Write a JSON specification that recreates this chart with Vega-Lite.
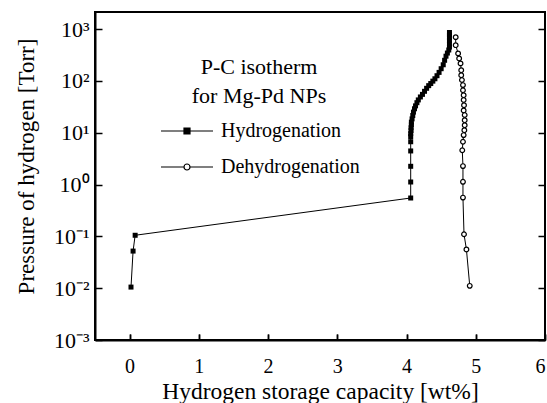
{
  "$schema": "https://vega.github.io/schema/vega-lite/v6.json",
  "width": 450,
  "height": 328,
  "autosize": {"type": "none"},
  "padding": {"left": 95, "top": 12, "right": 2, "bottom": 63},
  "background": "white",
  "config": {
    "view": {"stroke": "black", "strokeWidth": 2},
    "font": "Liberation Serif"
  },
  "data": {"values": [
    {"series": "Hydrogenation", "i": 1, "x": 0.02, "p": 0.0105},
    {"series": "Hydrogenation", "i": 2, "x": 0.05, "p": 0.052},
    {"series": "Hydrogenation", "i": 3, "x": 0.08, "p": 0.105},
    {"series": "Hydrogenation", "i": 4, "x": 4.06, "p": 0.55},
    {"series": "Hydrogenation", "i": 5, "x": 4.06, "p": 1.12},
    {"series": "Hydrogenation", "i": 6, "x": 4.06, "p": 2.25},
    {"series": "Hydrogenation", "i": 7, "x": 4.06, "p": 4.45},
    {"series": "Hydrogenation", "i": 8, "x": 4.06, "p": 6.7},
    {"series": "Hydrogenation", "i": 9, "x": 4.06, "p": 8.4},
    {"series": "Hydrogenation", "i": 10, "x": 4.06, "p": 9.6},
    {"series": "Hydrogenation", "i": 11, "x": 4.065, "p": 11.0},
    {"series": "Hydrogenation", "i": 12, "x": 4.065, "p": 12.5},
    {"series": "Hydrogenation", "i": 13, "x": 4.07, "p": 14.2},
    {"series": "Hydrogenation", "i": 14, "x": 4.07, "p": 16.0},
    {"series": "Hydrogenation", "i": 15, "x": 4.08, "p": 18.5},
    {"series": "Hydrogenation", "i": 16, "x": 4.09, "p": 21.5},
    {"series": "Hydrogenation", "i": 17, "x": 4.10, "p": 25},
    {"series": "Hydrogenation", "i": 18, "x": 4.115, "p": 29},
    {"series": "Hydrogenation", "i": 19, "x": 4.13, "p": 33},
    {"series": "Hydrogenation", "i": 20, "x": 4.15, "p": 38},
    {"series": "Hydrogenation", "i": 21, "x": 4.17, "p": 43},
    {"series": "Hydrogenation", "i": 22, "x": 4.20, "p": 49},
    {"series": "Hydrogenation", "i": 23, "x": 4.23, "p": 55},
    {"series": "Hydrogenation", "i": 24, "x": 4.26, "p": 63},
    {"series": "Hydrogenation", "i": 25, "x": 4.29, "p": 72},
    {"series": "Hydrogenation", "i": 26, "x": 4.32, "p": 81},
    {"series": "Hydrogenation", "i": 27, "x": 4.35, "p": 89},
    {"series": "Hydrogenation", "i": 28, "x": 4.38, "p": 99},
    {"series": "Hydrogenation", "i": 29, "x": 4.41, "p": 110},
    {"series": "Hydrogenation", "i": 30, "x": 4.44, "p": 126},
    {"series": "Hydrogenation", "i": 31, "x": 4.47, "p": 146},
    {"series": "Hydrogenation", "i": 32, "x": 4.50, "p": 172},
    {"series": "Hydrogenation", "i": 33, "x": 4.53, "p": 205},
    {"series": "Hydrogenation", "i": 34, "x": 4.55, "p": 250},
    {"series": "Hydrogenation", "i": 35, "x": 4.57, "p": 300},
    {"series": "Hydrogenation", "i": 36, "x": 4.59, "p": 345},
    {"series": "Hydrogenation", "i": 37, "x": 4.61, "p": 395},
    {"series": "Hydrogenation", "i": 38, "x": 4.62, "p": 450},
    {"series": "Hydrogenation", "i": 39, "x": 4.62, "p": 520},
    {"series": "Hydrogenation", "i": 40, "x": 4.62, "p": 600},
    {"series": "Hydrogenation", "i": 41, "x": 4.62, "p": 690},
    {"series": "Hydrogenation", "i": 42, "x": 4.62, "p": 780},
    {"series": "Hydrogenation", "i": 43, "x": 4.62, "p": 860},
    {"series": "Dehydrogenation", "i": 1, "x": 4.71, "p": 700},
    {"series": "Dehydrogenation", "i": 2, "x": 4.71, "p": 490},
    {"series": "Dehydrogenation", "i": 3, "x": 4.745, "p": 340},
    {"series": "Dehydrogenation", "i": 4, "x": 4.76, "p": 272},
    {"series": "Dehydrogenation", "i": 5, "x": 4.78, "p": 218},
    {"series": "Dehydrogenation", "i": 6, "x": 4.79, "p": 161},
    {"series": "Dehydrogenation", "i": 7, "x": 4.79, "p": 129},
    {"series": "Dehydrogenation", "i": 8, "x": 4.80, "p": 104},
    {"series": "Dehydrogenation", "i": 9, "x": 4.815, "p": 83},
    {"series": "Dehydrogenation", "i": 10, "x": 4.815, "p": 66},
    {"series": "Dehydrogenation", "i": 11, "x": 4.825, "p": 53},
    {"series": "Dehydrogenation", "i": 12, "x": 4.825, "p": 43},
    {"series": "Dehydrogenation", "i": 13, "x": 4.83, "p": 34},
    {"series": "Dehydrogenation", "i": 14, "x": 4.825, "p": 27},
    {"series": "Dehydrogenation", "i": 15, "x": 4.84, "p": 22},
    {"series": "Dehydrogenation", "i": 16, "x": 4.84, "p": 17.5},
    {"series": "Dehydrogenation", "i": 17, "x": 4.84, "p": 14},
    {"series": "Dehydrogenation", "i": 18, "x": 4.835, "p": 11.2},
    {"series": "Dehydrogenation", "i": 19, "x": 4.825, "p": 9.0},
    {"series": "Dehydrogenation", "i": 20, "x": 4.815, "p": 6.7},
    {"series": "Dehydrogenation", "i": 21, "x": 4.805, "p": 4.6},
    {"series": "Dehydrogenation", "i": 22, "x": 4.815, "p": 2.27},
    {"series": "Dehydrogenation", "i": 23, "x": 4.815, "p": 1.13},
    {"series": "Dehydrogenation", "i": 24, "x": 4.815, "p": 0.56},
    {"series": "Dehydrogenation", "i": 25, "x": 4.83, "p": 0.11},
    {"series": "Dehydrogenation", "i": 26, "x": 4.865, "p": 0.056},
    {"series": "Dehydrogenation", "i": 27, "x": 4.913, "p": 0.0111}
  ]},
  "layer": [
    {
      "mark": {"type": "line", "color": "black", "strokeWidth": 1},
      "encoding": {
        "x": {"field": "x", "type": "quantitative",
          "scale": {"type": "linear", "domain": [-0.5, 6], "nice": false, "zero": false},
          "axis": {"values": [0, 1, 2, 3, 4, 5, 6], "format": "d",
            "domainColor": "black", "domainWidth": 2,
            "tickColor": "black", "tickSize": -6, "tickWidth": 1.5,
            "grid": true, "gridColor": "black", "gridWidth": 1.5, "gridDash": [0, 322, 6, 2000],
            "labelPadding": 22, "labelFontSize": 20, "labelFont": "Liberation Serif", "labelColor": "black",
            "title": "Hydrogen storage capacity [wt%]", "titleFont": "Liberation Serif", "titleFontWeight": "normal", "titleColor": "black", "titleFontSize": 23.5, "titleY": 58, "titleBaseline": "alphabetic"}},
        "y": {"field": "p", "type": "quantitative",
          "scale": {"type": "log", "domain": [0.001, 2138], "nice": false},
          "axis": {"values": [0.001, 0.01, 0.1, 1, 10, 100, 1000],
            "domainColor": "black", "domainWidth": 2,
            "tickColor": "black", "tickSize": -7, "tickWidth": 1.5,
            "grid": true, "gridColor": "black", "gridWidth": 1.5, "gridDash": [0, 443, 7, 2000],
            "labelPadding": 13, "labelFontSize": 22, "labelFont": "Liberation Serif", "labelColor": "black",
            "labelExpr": "datum.value >= 999 ? '10³' : datum.value >= 99 ? '10²' : datum.value >= 9 ? '10¹' : datum.value >= 0.9 ? '10⁰' : datum.value >= 0.09 ? '10⁻¹' : datum.value >= 0.009 ? '10⁻²' : '10⁻³'",
            "title": "Pressure of hydrogen [Torr]", "titleFont": "Liberation Serif", "titleFontWeight": "normal", "titleColor": "black", "titleFontSize": 23, "titleX": -62, "titleY": 154, "titleAngle": -90, "titleBaseline": "alphabetic", "titleAlign": "center"}},
        "detail": {"field": "series", "type": "nominal"},
        "order": {"field": "i", "type": "quantitative"}
      }
    },
    {
      "transform": [{"filter": "datum.series == 'Hydrogenation'"}],
      "mark": {"type": "point", "shape": "square", "filled": true, "color": "black", "size": 25, "opacity": 1},
      "encoding": {
        "x": {"field": "x", "type": "quantitative", "scale": {"type": "linear", "domain": [-0.5, 6], "nice": false, "zero": false}},
        "y": {"field": "p", "type": "quantitative", "scale": {"type": "log", "domain": [0.001, 2138], "nice": false}}
      }
    },
    {
      "transform": [{"filter": "datum.series == 'Dehydrogenation'"}],
      "mark": {"type": "point", "shape": "circle", "filled": true, "fill": "white", "stroke": "black", "strokeWidth": 1.2, "size": 22, "opacity": 1},
      "encoding": {
        "x": {"field": "x", "type": "quantitative", "scale": {"type": "linear", "domain": [-0.5, 6], "nice": false, "zero": false}},
        "y": {"field": "p", "type": "quantitative", "scale": {"type": "log", "domain": [0.001, 2138], "nice": false}}
      }
    },
    {
      "transform": [{"filter": "false"}],
      "mark": {"type": "point", "filled": true, "stroke": "black", "strokeWidth": 1.2, "size": 4, "opacity": 1},
      "encoding": {
        "x": {"field": "x", "type": "quantitative", "scale": {"type": "linear", "domain": [-0.5, 6], "nice": false, "zero": false}},
        "y": {"field": "p", "type": "quantitative", "scale": {"type": "log", "domain": [0.001, 2138], "nice": false}},
        "shape": {"field": "series", "type": "nominal",
          "scale": {"domain": ["Hydrogenation", "Dehydrogenation"], "range": ["M-26,0H26M-3,-3H3V3H-3Z", "M-26,0H-3M3,0H26M-3,0A3,3,0,1,0,3,0A3,3,0,1,0,-3,0Z"]},
          "legend": {"orient": "none", "legendX": 64, "legendY": 45, "title": ["P-C isotherm", "for Mg-Pd NPs"], "titleFont": "Liberation Serif", "titleFontSize": 22, "titleFontWeight": "normal", "titleColor": "black", "titleLineHeight": 29, "titleAnchor": "middle", "titleAlign": "center", "titlePadding": 13, "labelFont": "Liberation Serif", "labelFontSize": 20, "labelColor": "black", "symbolSize": 4, "symbolOffset": 18, "labelOffset": 24, "rowPadding": 16, "padding": 0, "symbolStrokeWidth": 1.2, "symbolStrokeColor": "black", "symbolOpacity": 1}},
        "fill": {"field": "series", "type": "nominal",
          "scale": {"domain": ["Hydrogenation", "Dehydrogenation"], "range": ["black", "white"]},
          "legend": {"orient": "none", "legendX": 64, "legendY": 45, "title": ["P-C isotherm", "for Mg-Pd NPs"], "titleFont": "Liberation Serif", "titleFontSize": 22, "titleFontWeight": "normal", "titleColor": "black", "titleLineHeight": 29, "titleAnchor": "middle", "titleAlign": "center", "titlePadding": 13, "labelFont": "Liberation Serif", "labelFontSize": 20, "labelColor": "black", "symbolSize": 4, "symbolOffset": 18, "labelOffset": 24, "rowPadding": 16, "padding": 0, "symbolStrokeWidth": 1.2, "symbolStrokeColor": "black", "symbolOpacity": 1}},
        "stroke": {"field": "series", "type": "nominal",
          "scale": {"domain": ["Hydrogenation", "Dehydrogenation"], "range": ["black", "black"]},
          "legend": {"orient": "none", "legendX": 64, "legendY": 45, "title": ["P-C isotherm", "for Mg-Pd NPs"], "titleFont": "Liberation Serif", "titleFontSize": 22, "titleFontWeight": "normal", "titleColor": "black", "titleLineHeight": 29, "titleAnchor": "middle", "titleAlign": "center", "titlePadding": 13, "labelFont": "Liberation Serif", "labelFontSize": 20, "labelColor": "black", "symbolSize": 4, "symbolOffset": 18, "labelOffset": 24, "rowPadding": 16, "padding": 0, "symbolStrokeWidth": 1.2, "symbolStrokeColor": "black", "symbolOpacity": 1}}
      }
    }
  ]
}
